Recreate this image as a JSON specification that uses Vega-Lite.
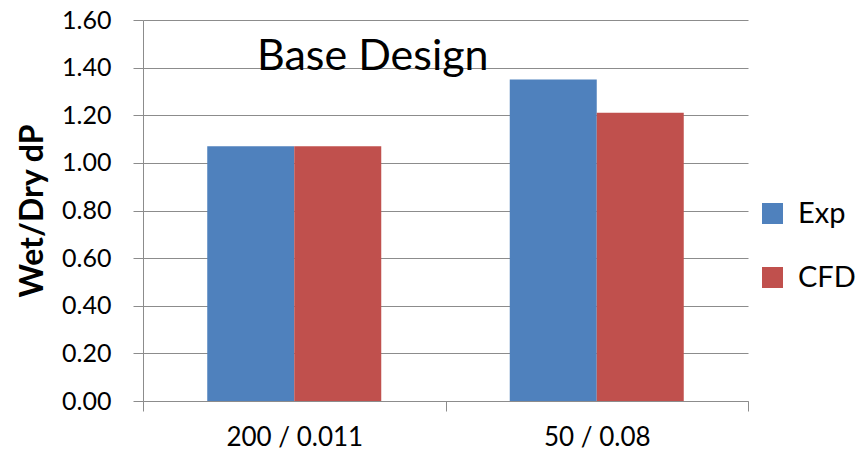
{
  "$schema": "https://vega.github.io/schema/vega-lite/v6.json",
  "width": 605,
  "height": 381,
  "autosize": {"type": "none"},
  "padding": {"left": 143, "top": 20, "right": 117, "bottom": 61},
  "background": "white",
  "config": {
    "font": "Lato",
    "view": {"stroke": null}
  },
  "title": {
    "text": "Base Design",
    "anchor": "start",
    "frame": "group",
    "orient": "top",
    "dx": 114,
    "offset": -105,
    "baseline": "alphabetic",
    "fontSize": 43,
    "fontWeight": "normal",
    "font": "Lato",
    "color": "black"
  },
  "data": {
    "values": [
      {"case": "200 / 0.011", "source": "Exp", "ratio": 1.07},
      {"case": "200 / 0.011", "source": "CFD", "ratio": 1.07},
      {"case": "50 / 0.08", "source": "Exp", "ratio": 1.35},
      {"case": "50 / 0.08", "source": "CFD", "ratio": 1.21}
    ]
  },
  "mark": {"type": "bar"},
  "encoding": {
    "x": {
      "field": "case",
      "type": "nominal",
      "sort": null,
      "scale": {"paddingInner": 0, "paddingOuter": 0},
      "axis": {
        "title": null,
        "labelAngle": 0,
        "labelFontSize": 26,
        "labelColor": "black",
        "labelPadding": 13,
        "tickBand": "extent",
        "tickSize": 10,
        "tickColor": "#8c8c8c",
        "domainColor": "#8c8c8c",
        "grid": false
      }
    },
    "xOffset": {
      "field": "source",
      "type": "nominal",
      "sort": ["Exp", "CFD"],
      "scale": {"paddingInner": 0, "paddingOuter": 0.7385}
    },
    "y": {
      "field": "ratio",
      "type": "quantitative",
      "scale": {"domain": [0, 1.6], "nice": false},
      "axis": {
        "title": "Wet/Dry dP",
        "titleFontSize": 32,
        "titleFontWeight": "bold",
        "titleColor": "black",
        "titlePadding": 12,
        "values": [0, 0.2, 0.4, 0.6, 0.8, 1.0, 1.2, 1.4, 1.6],
        "format": ".2f",
        "labelFontSize": 25,
        "labelColor": "black",
        "labelPadding": 22,
        "tickSize": 10,
        "tickColor": "#8c8c8c",
        "domainColor": "#8c8c8c",
        "grid": true,
        "gridColor": "#8c8c8c"
      }
    },
    "color": {
      "field": "source",
      "type": "nominal",
      "sort": ["Exp", "CFD"],
      "scale": {"domain": ["Exp", "CFD"], "range": ["#4F81BD", "#C0504D"]},
      "legend": {
        "title": null,
        "orient": "none",
        "legendX": 615,
        "legendY": 179,
        "symbolType": "square",
        "symbolSize": 441,
        "symbolStrokeWidth": 0,
        "symbolOpacity": 1,
        "labelFontSize": 29,
        "labelColor": "black",
        "labelOffset": 11,
        "rowPadding": 34
      }
    }
  }
}
